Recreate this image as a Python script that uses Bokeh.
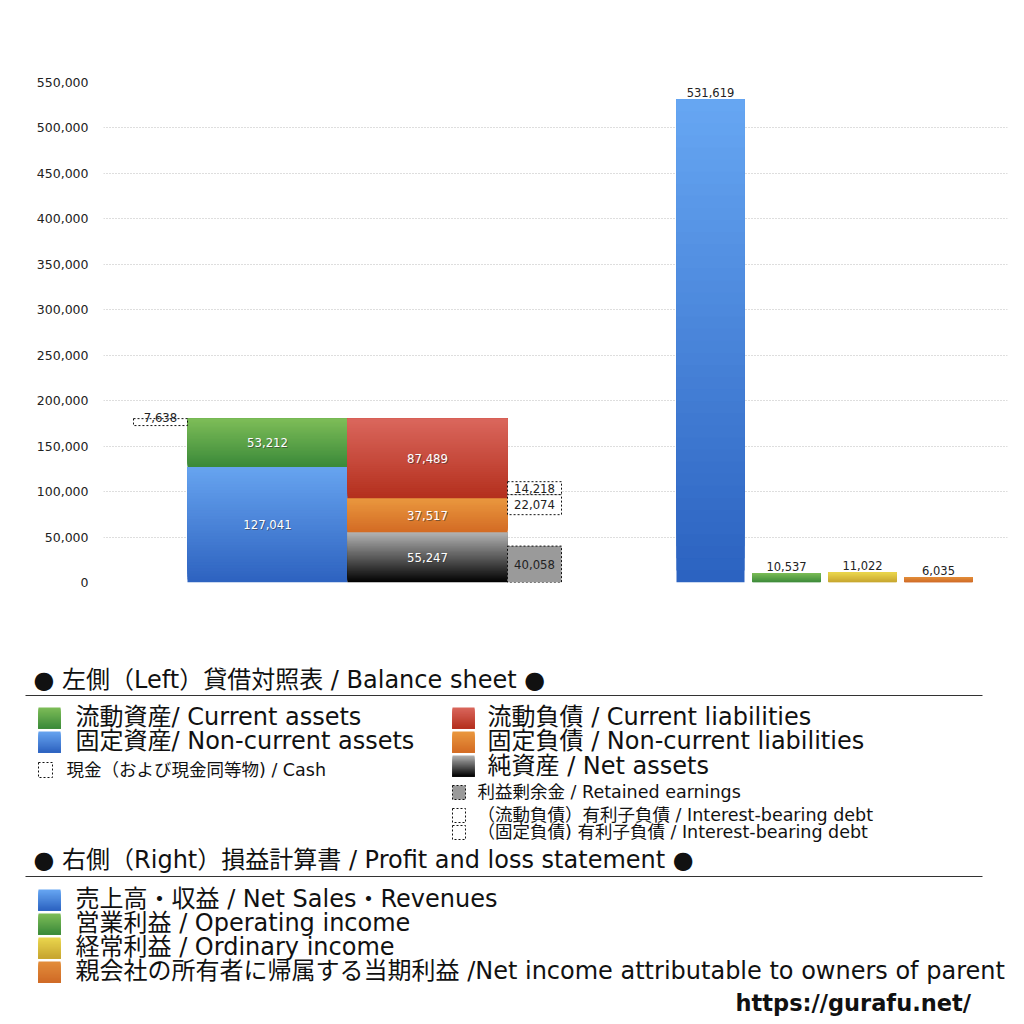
from bokeh.plotting import figure
from bokeh.models import Range1d, NumeralTickFormatter, FixedTicker
from bokeh.embed import file_html
from bokeh.resources import INLINE
from bokeh.core.properties import value

# ---------------- data ----------------
assets_labels = ["固定資産 / Non-current assets", "流動資産 / Current assets"]
assets_values = [127041, 53212]                 # bottom -> top
liab_labels = ["純資産 / Net assets", "固定負債 / Non-current liabilities", "流動負債 / Current liabilities"]
liab_values = [55247, 37517, 87489]             # bottom -> top
cash_value = 7638
retained_earnings = 40058
debt_current = 14218
debt_noncurrent = 22074
pl_labels = ["売上高・収益", "営業利益", "経常利益", "親会社の所有者に帰属する当期利益"]
pl_values = [531619, 10537, 11022, 6035]
y_ticks = [0, 50000, 100000, 150000, 200000, 250000, 300000, 350000, 400000, 450000, 500000, 550000]

# ---------------- styles / layout ----------------
FONT = "DejaVu Sans, Noto Sans CJK JP"
NUMFONT = "DejaVu Sans"
asset_colors = [("#67a4f0", "#2d62bf"), ("#7ebd58", "#3a8939")]
liab_colors = [("#b4b4b4", "#000000"), ("#ea983f", "#d36b24"), ("#da675d", "#b42f1d")]
pl_colors = [("#67a7f3", "#2b62c0"), ("#7ebd58", "#3a8939"), ("#ead64e", "#c6a42f"), ("#e38d3a", "#cf6a27")]

ASSET_X = (187, 347)
LIAB_X = (347, 507)
BOX_X = (507, 561)
CASH_X = (133, 187)
PL_X0, PL_W, PL_STEP = 676, 68, 76


def hex2rgb(h):
    h = h.lstrip("#")
    return tuple(int(h[i:i + 2], 16) for i in (0, 2, 4))


def mix(c_from, c_to, f):
    a, b = hex2rgb(c_from), hex2rgb(c_to)
    return "#%02x%02x%02x" % tuple(int(round(a[i] + (b[i] - a[i]) * f)) for i in range(3))


def grad_quads(fig, x0, x1, b, t, c_b, c_t, n=40):
    # slices drawn bottom -> top, each reaching to the top to avoid seams
    L, R, B, T, C = [], [], [], [], []
    h = (t - b) / n
    for i in range(n):
        L.append(x0); R.append(x1); B.append(b + h * i); T.append(t)
        C.append(mix(c_b, c_t, (i + 0.5) / n))
    fig.quad(left=L, right=R, bottom=B, top=T, fill_color=C, line_color=None)


def fmt(v):
    return f"{v:,}"


# ---------------- chart ----------------
p = figure(width=1008, height=658, output_backend="svg", toolbar_location=None,
           x_range=Range1d(103, 1007), y_range=Range1d(0, 550000),
           min_border_left=103, min_border_right=1, min_border_top=82, min_border_bottom=76)
p.outline_line_color = None
p.xaxis.visible = False
p.xgrid.visible = False
p.ygrid.grid_line_color = "#bdbdbd"
p.ygrid.grid_line_dash = "1 2"
p.yaxis.ticker = FixedTicker(ticks=y_ticks)
p.yaxis.formatter = NumeralTickFormatter(format="0,0")
p.yaxis.axis_line_color = None
p.yaxis.major_tick_line_color = None
p.yaxis.minor_tick_line_color = None
p.yaxis.major_label_text_font = NUMFONT
p.yaxis.major_label_text_font_size = "12.5px"
p.yaxis.major_label_text_color = "#222222"
p.yaxis.major_label_standoff = 9

NUMSIZE = "11.7px"


def inbar_label(x, y, txt):
    p.text(x=[x], y=[y], text=[txt], text_font=value(NUMFONT), text_font_size=NUMSIZE,
           text_color="#333333", text_alpha=0.55, text_align="center", text_baseline="middle",
           x_offset=1, y_offset=1)
    p.text(x=[x], y=[y], text=[txt], text_font=value(NUMFONT), text_font_size=NUMSIZE,
           text_color="white", text_align="center", text_baseline="middle")


def dark_label(x, y, txt, size=NUMSIZE, baseline="middle", yoff=0):
    p.text(x=[x], y=[y], text=[txt], text_font=value(NUMFONT), text_font_size=size,
           text_color="#222222", text_align="center", text_baseline=baseline, y_offset=yoff)


# assets stack
base = 0
for v, (ct, cb) in zip(assets_values, asset_colors):
    grad_quads(p, ASSET_X[0], ASSET_X[1], base, base + v, cb, ct)
    inbar_label((ASSET_X[0] + ASSET_X[1]) / 2, base + v / 2, fmt(v))
    base += v
assets_total = base

# liabilities + net assets stack
base = 0
for v, (ct, cb) in zip(liab_values, liab_colors):
    grad_quads(p, LIAB_X[0], LIAB_X[1], base, base + v, cb, ct)
    inbar_label((LIAB_X[0] + LIAB_X[1]) / 2, base + v / 2, fmt(v))
    base += v

# cash box (top of assets)
p.quad(left=[CASH_X[0]], right=[CASH_X[1]], bottom=[assets_total - cash_value], top=[assets_total],
       fill_color=None, line_color="#111111", line_dash="2 2", line_width=1)
dark_label((CASH_X[0] + CASH_X[1]) / 2, assets_total, fmt(cash_value), baseline="middle", yoff=-1)

# retained earnings box
p.quad(left=[BOX_X[0]], right=[BOX_X[1]], bottom=[0], top=[retained_earnings],
       fill_color="#9a9a9a", line_color="#111111", line_dash="2 2", line_width=1)
dark_label((BOX_X[0] + BOX_X[1]) / 2, retained_earnings / 2, fmt(retained_earnings))

# interest-bearing debt boxes, centred on the non-current / current liabilities boundary
boundary = liab_values[0] + liab_values[1]
d0 = boundary - (debt_current + debt_noncurrent) / 2
p.quad(left=[BOX_X[0]], right=[BOX_X[1]], bottom=[d0], top=[d0 + debt_noncurrent],
       fill_color="white", line_color="#111111", line_dash="2 2", line_width=1)
p.quad(left=[BOX_X[0]], right=[BOX_X[1]], bottom=[d0 + debt_noncurrent], top=[d0 + debt_noncurrent + debt_current],
       fill_color="white", line_color="#111111", line_dash="2 2", line_width=1)
dark_label((BOX_X[0] + BOX_X[1]) / 2, d0 + debt_noncurrent / 2, fmt(debt_noncurrent))
dark_label((BOX_X[0] + BOX_X[1]) / 2, d0 + debt_noncurrent + debt_current / 2, fmt(debt_current))

# P&L bars
for i, (v, (ct, cb)) in enumerate(zip(pl_values, pl_colors)):
    x0 = PL_X0 + i * PL_STEP
    grad_quads(p, x0, x0 + PL_W, 0, v, cb, ct)
    dark_label(x0 + PL_W / 2, v, fmt(v), size="11.5px", baseline="bottom", yoff=-2)

# ---------------- legend panel ----------------
q = figure(width=1008, height=358, output_backend="svg", toolbar_location=None,
           x_range=Range1d(0, 1008), y_range=Range1d(1016, 658), min_border=0)
q.outline_line_color = None
q.axis.visible = False
q.grid.visible = False


def qtext(x, y, txt, size, bold=False, font=FONT, color="#111111"):
    q.text(x=[x], y=[y], text=[txt], text_font=value(font), text_font_size=size,
           text_color=color, text_align="left", text_baseline="middle",
           text_font_style="bold" if bold else "normal")


def qgrad(x0, x1, y0, y1, ct, cb, n=20):
    # screen-style coordinates (y grows downward): top colour at y0
    L, R, B, T, C = [], [], [], [], []
    h = (y1 - y0) / n
    for i in range(n):
        L.append(x0); R.append(x1); B.append(y0 + h * i); T.append(y1)
        C.append(mix(ct, cb, (i + 0.5) / n))
    q.quad(left=L, right=R, bottom=B, top=T, fill_color=C, line_color=None)


def qdotbox(x0, x1, y0, y1, fill=None):
    q.quad(left=[x0], right=[x1], bottom=[y0], top=[y1], fill_color=fill,
           line_color="#111111", line_dash="2 2", line_width=1)


BIG = "24px"
SMALL = "17.5px"
qtext(33, 679, "● 左側（Left）貸借対照表 / Balance sheet ●", BIG)
q.line(x=[25, 982], y=[695, 695], line_color="#333333", line_width=1)

qgrad(38, 60, 707, 728, *asset_colors[1])
qtext(75, 716, "流動資産/ Current assets", BIG)
qgrad(38, 60, 731, 752, *asset_colors[0])
qtext(75, 740, "固定資産/ Non-current assets", BIG)
qdotbox(38, 52, 762, 777)
qtext(66, 769, "現金（および現金同等物) / Cash", SMALL)

qgrad(452, 474, 707, 728, *liab_colors[2])
qtext(487, 716, "流動負債 /  Current liabilities", BIG)
qgrad(452, 474, 731, 752, *liab_colors[1])
qtext(487, 740, "固定負債 / Non-current liabilities", BIG)
qgrad(452, 474, 755, 776, *liab_colors[0])
qtext(487, 765, "純資産 / Net assets", BIG)
qdotbox(452, 465, 785, 799, fill="#9a9a9a")
qtext(477, 791, "利益剰余金 / Retained earnings", SMALL)
qdotbox(452, 465, 808, 822)
qtext(477, 814, "（流動負債）有利子負債 / Interest-bearing debt", SMALL)
qdotbox(452, 465, 825, 839)
qtext(477, 831, "（固定負債) 有利子負債 / Interest-bearing debt", SMALL)

qtext(33, 859, "● 右側（Right）損益計算書 / Profit and loss statement ●", BIG)
q.line(x=[25, 982], y=[876, 876], line_color="#333333", line_width=1)

pl_legend = ["売上高・収益 / Net Sales・Revenues", "営業利益 / Operating income",
             "経常利益 / Ordinary income",
             "親会社の所有者に帰属する当期利益 /Net income attributable to owners of parent"]
for i, (txt, (ct, cb)) in enumerate(zip(pl_legend, pl_colors)):
    y0 = 889 + 24 * i
    qgrad(38, 60, y0, y0 + 21, ct, cb)
    qtext(75, y0 + 9, txt, BIG)

qtext(735, 1002, "https://gurafu.net/", "22.5px", bold=True, font="DejaVu Sans")

open("out.html", "w").write(file_html([p, q], INLINE))
